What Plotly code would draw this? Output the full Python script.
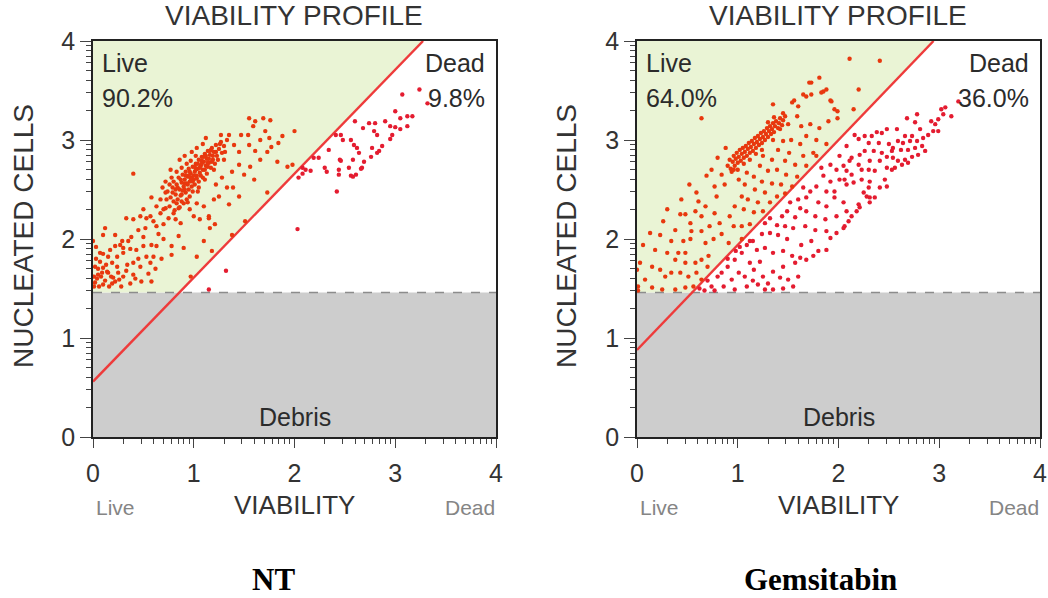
import math
import plotly.graph_objects as go

W, H = 1048, 598

# ---- gate settings (log units) ----
debris_cut = 1.46
nt_gate = (0.56, 1.05)     # intercept, slope of live/dead boundary
gem_gate = (0.88, 1.06)

nt_pct = ("90.2%", "9.8%")
gem_pct = ("64.0%", "36.0%")

# ---- events: (viability, nucleated) ----
nt_live = [
    (0.00,1.98),(0.12,2.11),(0.10,2.04),(0.22,2.04),(0.29,1.98),(0.33,2.21),(0.40,2.20),(0.47,2.23),
    (0.53,2.21),(0.45,2.09),(0.52,2.11),(0.60,2.18),(0.63,2.13),(0.70,2.15),(0.35,1.98),(0.22,1.93),
    (0.27,1.94),(0.30,1.91),(0.17,1.89),(0.15,1.82),(0.24,1.82),(0.30,1.86),(0.37,1.90),(0.43,1.89),
    (0.50,1.93),(0.58,1.94),(0.63,1.93),(0.60,1.82),(0.53,1.82),(0.07,1.77),(0.02,1.72),(0.10,1.71),
    (0.19,1.76),(0.24,1.72),(0.34,1.74),(0.40,1.76),(0.47,1.72),(0.57,1.76),(0.01,1.62),(0.05,1.64),
    (0.15,1.66),(0.20,1.61),(0.30,1.62),(0.37,1.55),(0.40,1.64),(0.48,1.57),(0.58,1.57),(0.01,1.52),
    (0.10,1.54),(0.19,1.55),(0.28,1.52),(0.02,1.56),(0.05,1.70),(0.08,1.62),(0.12,1.58),(0.03,1.80),
    (0.06,1.52),(0.14,1.67),(0.18,1.62),(0.22,1.57),(0.25,1.66),(0.10,1.85),(0.33,1.68),(0.42,1.60),
    (0.45,1.80),(0.55,1.65),(0.62,1.70),(0.68,1.80),(0.70,2.00),(0.65,2.05),(0.38,2.02),(0.50,2.02),
    (0.97,1.62),(0.04,1.60),(0.09,1.66),(0.13,1.74),(0.16,1.52),(0.26,1.59),(0.03,1.92),(0.07,1.86),
    (0.58,2.42),(0.50,2.30),(0.57,2.23),(0.63,2.33),(0.67,2.26),(0.72,2.31),(0.75,2.21),(0.80,2.26),
    (0.85,2.31),(0.82,2.20),(0.87,2.16),(0.67,2.40),(0.72,2.47),(0.77,2.42),(0.82,2.50),(0.83,2.36),
    (0.88,2.45),(0.93,2.40),(0.96,2.30),(1.00,2.23),(1.06,2.20),(1.15,2.23),(1.10,2.33),(1.03,2.36),
    (0.78,1.93),(0.78,1.84),(0.85,2.03),(0.90,1.91),(1.03,1.82),(1.10,1.98),(1.16,2.11),(0.40,2.66),
    (0.74,2.48),(0.76,2.55),(0.79,2.52),(0.80,2.58),(0.82,2.45),(0.83,2.55),(0.85,2.62),(0.86,2.50),
    (0.88,2.57),(0.89,2.65),(0.90,2.53),(0.91,2.60),(0.92,2.68),(0.93,2.56),(0.94,2.63),(0.95,2.71),
    (0.96,2.58),(0.97,2.66),(0.98,2.62),(0.99,2.73),(1.00,2.60),(1.01,2.68),(1.02,2.76),(1.03,2.64),
    (1.04,2.71),(1.05,2.80),(1.06,2.67),(1.07,2.74),(1.08,2.83),(1.09,2.70),(1.10,2.78),(1.11,2.86),
    (1.12,2.74),(1.13,2.81),(1.14,2.89),(1.15,2.77),(1.16,2.85),(1.18,2.92),(1.19,2.80),(1.20,2.88),
    (1.22,2.95),(1.23,2.84),(1.25,2.91),(1.27,2.98),(1.28,2.87),(1.30,2.94),(1.33,3.00),(0.84,2.40),
    (0.87,2.44),(0.92,2.47),(0.95,2.50),(0.98,2.53),(1.01,2.55),(1.05,2.58),(0.78,2.62),(0.83,2.68),
    (0.88,2.72),(0.93,2.76),(0.97,2.79),(1.02,2.84),(0.90,2.36),(0.96,2.43),(1.04,2.48),(1.09,2.62),
    (1.13,2.66),(1.17,2.72),(1.21,2.76),(0.86,2.32),(0.80,2.38),(0.94,2.37),
    (0.70,2.30),(0.73,2.40),(0.76,2.33),(0.79,2.47),(0.81,2.29),(0.84,2.52),(0.88,2.38),(0.91,2.50),
    (0.95,2.64),(0.99,2.48),(1.02,2.70),(1.05,2.52),(1.08,2.76),(1.11,2.60),(1.14,2.73),(1.17,2.90),
    (1.20,2.70),(1.24,2.80),(1.26,2.96),(1.31,2.88),(1.03,2.92),(0.98,2.88),(1.09,2.96),(0.86,2.80),
    (0.91,2.84),(0.77,2.70),(0.72,2.58),(0.69,2.52),(1.12,3.02),(1.27,3.05),
    (0.89,2.49),(0.94,2.55),(0.99,2.58),(1.03,2.61),(1.07,2.64),(1.11,2.70),(1.15,2.81),(1.19,2.84),
    (0.87,2.60),(0.92,2.64),(0.96,2.68),(1.00,2.64),(1.04,2.76),(1.08,2.79),(1.12,2.84),(1.16,2.89),
    (0.91,2.56),(0.97,2.61),(1.01,2.73),(1.06,2.72),(1.10,2.83),(1.14,2.77),(1.18,2.78),(1.22,2.88),
    (1.55,3.22),(1.61,3.19),(1.69,3.22),(1.76,3.20),(2.00,3.09),(1.71,3.09),(1.54,3.05),(1.47,3.05),
    (1.75,3.02),(1.88,3.04),(1.84,2.97),(1.77,2.93),(1.61,2.89),(1.73,2.88),(1.66,2.80),(1.56,2.73),
    (1.83,2.78),(1.93,2.73),(1.98,2.75),(1.45,2.75),(1.45,2.43),(1.73,2.47),(1.33,2.52),(1.39,2.52),
    (1.25,2.43),(1.15,2.21),(1.21,2.15),(1.51,2.18),(1.38,2.04),(1.18,1.88),(1.35,3.05),(1.40,2.95),
    (1.30,2.80),(1.45,2.88),(1.50,2.65),(1.60,2.60),(1.38,2.68),(1.28,2.62),(1.22,2.55),(1.55,2.95),
    (1.66,3.00),(1.20,2.40),(1.35,2.35),(1.59,3.14),
]

nt_dead = [
    (3.07,3.46),(3.24,3.51),(3.32,3.37),(3.00,3.29),(3.12,3.24),(3.17,3.24),(3.05,3.22),(2.90,3.19),
    (2.80,3.17),(2.74,3.17),(2.60,3.19),(2.68,3.12),(2.79,3.09),(2.82,3.05),(2.95,3.14),(3.00,3.13),
    (3.05,3.11),(3.12,3.14),(2.97,3.05),(2.95,3.01),(2.87,2.94),(2.84,2.89),(2.77,2.92),(2.76,2.83),
    (2.82,2.87),(2.62,2.92),(2.64,2.87),(2.56,3.00),(2.46,3.05),(2.48,3.00),(2.41,3.05),(2.34,2.90),
    (2.59,2.95),(2.45,2.80),(2.46,2.79),(2.58,2.80),(2.69,2.78),(2.67,2.72),(2.66,2.71),(2.54,2.72),
    (2.44,2.70),(2.44,2.65),(2.32,2.68),(2.56,2.64),(2.58,2.63),(2.61,2.65),(2.42,2.48),(2.24,2.82),
    (2.19,2.82),(2.16,2.69),(2.04,2.62),(2.08,2.66),(2.11,2.70),(2.30,2.72),(2.03,2.10),(1.32,1.68),
    (1.15,1.49),(2.08,2.72),
]

gem_live = [
    (0.90,2.74),(0.92,2.80),(0.93,2.71),(0.95,2.78),(0.96,2.84),(0.97,2.74),(0.98,2.81),(0.99,2.87),
    (1.00,2.77),(1.01,2.83),(1.02,2.90),(1.03,2.79),(1.04,2.86),(1.05,2.92),(1.06,2.82),(1.07,2.88),
    (1.08,2.94),(1.09,2.84),(1.10,2.91),(1.11,2.97),(1.12,2.87),(1.13,2.93),(1.14,2.99),(1.15,2.89),
    (1.16,2.96),(1.17,3.02),(1.18,2.92),(1.19,2.98),(1.20,3.04),(1.21,2.95),(1.22,3.01),(1.23,3.07),
    (1.24,2.97),(1.25,3.03),(1.26,3.09),(1.27,3.00),(1.28,3.06),(1.29,3.12),(1.30,3.03),(1.31,3.09),
    (1.32,3.14),(1.33,3.06),(1.34,3.11),(1.35,3.17),(1.36,3.08),(1.37,3.14),(1.38,3.19),(1.40,3.12),
    (1.41,3.17),(1.42,3.22),(1.44,3.15),(1.45,3.20),(1.47,3.24),(1.36,3.23),(1.30,3.18),(0.94,2.68),
    (1.00,2.70),(1.06,2.76),(1.12,2.80),(1.18,2.86),(1.24,2.90),
    (2.11,3.82),(2.41,3.80),(1.73,3.58),(1.81,3.63),(1.65,3.46),(1.68,3.44),(2.20,3.51),(1.85,3.49),
    (1.35,3.36),(1.56,3.40),(1.92,3.40),(1.99,3.29),(1.99,3.22),(2.15,3.31),(0.64,3.22),
    (1.54,3.38),(1.73,3.46),(1.71,3.58),(1.83,3.48),(1.88,3.51),(1.93,3.39),(1.96,3.31),(1.90,3.19),
    (1.81,3.12),(1.72,3.16),(1.63,3.14),(1.60,3.34),(1.59,3.24),(1.45,3.27),(1.50,3.16),(1.42,3.11),
    (1.68,3.04),(1.78,3.00),(1.88,2.96),(1.62,2.96),(1.53,3.00),(1.45,2.99),(1.35,3.00),(1.40,2.90),
    (1.51,2.87),(1.65,2.84),(1.75,2.87),(1.78,2.84),(1.68,2.74),(1.57,2.75),(1.47,2.79),(1.34,2.80),
    (1.25,2.84),(1.22,2.74),(1.30,2.69),(1.39,2.70),(1.48,2.65),(1.59,2.63),(1.54,2.53),(1.43,2.55),
    (1.34,2.56),(1.24,2.58),(1.16,2.63),(1.09,2.67),(1.07,2.55),(1.17,2.50),(1.27,2.47),(1.39,2.43),
    (1.47,2.46),(1.32,2.37),(1.20,2.37),(1.10,2.40),(1.06,2.30),(1.16,2.27),(1.25,2.28),(1.12,2.15),
    (1.04,2.13),(1.04,2.00),
    (0.69,2.64),(0.84,2.65),(0.87,2.55),(0.77,2.53),(0.79,2.43),(0.59,2.47),(0.61,2.38),(0.68,2.33),
    (0.58,2.28),(0.43,2.25),(0.48,2.25),(0.53,2.16),(0.64,2.23),(0.77,2.26),(0.82,2.16),(0.72,2.13),
    (0.64,2.08),(0.54,2.08),(0.38,2.09),(0.23,2.04),(0.13,2.06),(0.34,1.98),(0.46,1.98),(0.53,2.00),
    (0.68,1.96),(0.76,2.00),(0.84,2.05),(0.91,1.96),(0.96,2.13),(0.92,2.23),(0.97,2.33),(1.04,2.43),
    (1.01,2.60),(0.96,2.70),(0.06,1.94),(0.18,1.89),(0.30,1.86),(0.41,1.86),(0.48,1.86),(0.38,1.79),
    (0.48,1.76),(0.58,1.76),(0.64,1.79),(0.71,1.83),(0.70,1.72),(0.03,1.76),(0.15,1.72),(0.23,1.69),
    (0.28,1.62),(0.34,1.66),(0.43,1.66),(0.51,1.62),(0.59,1.66),(0.64,1.59),(0.08,1.59),(0.01,1.52),
    (0.15,1.51),(0.25,1.49),(0.38,1.49),(0.48,1.51),(0.56,1.52),(0.01,1.48),(0.00,1.69),(0.44,2.40),
    (0.30,2.30),(0.52,2.55),(0.26,2.18),(0.80,2.82),(0.88,2.92),(0.74,2.70),
]

gem_dead = [
    (3.06,3.33),(3.12,3.24),(3.19,3.39),(3.02,3.31),(3.04,3.26),(2.99,3.21),(2.78,3.26),(2.68,3.22),
    (2.76,3.18),(2.92,3.19),(2.96,3.16),(2.94,3.09),(2.99,3.09),(2.89,3.05),(2.81,3.11),(2.84,3.02),
    (2.78,2.99),(2.73,3.04),(2.71,2.99),(2.66,3.04),(2.64,2.97),(2.59,2.99),(2.58,3.11),(2.48,3.11),
    (2.43,3.07),(2.38,3.08),(2.33,3.04),(2.26,3.04),(2.20,3.01),(2.16,3.05),(2.30,2.97),(2.40,2.97),
    (2.50,2.96),(2.54,2.92),(2.62,2.90),(2.69,2.90),(2.76,2.92),(2.83,2.94),(2.86,2.89),(2.79,2.85),
    (2.73,2.83),(2.66,2.80),(2.59,2.79),(2.53,2.89),(2.54,2.82),(2.48,2.83),(2.43,2.87),(2.35,2.89),
    (2.26,2.89),(2.21,2.85),(2.13,2.82),(2.11,2.79),(2.20,2.75),(2.31,2.79),(2.41,2.79),(2.48,2.72),
    (2.56,2.72),(2.63,2.75),(2.69,2.77),(2.53,2.70),(2.36,2.69),(2.30,2.70),(2.23,2.70),(2.13,2.65),
    (2.08,2.69),(2.06,2.60),(2.15,2.57),(2.23,2.60),(2.31,2.58),(2.46,2.60),(2.41,2.52),(2.48,2.53),
    (2.30,2.52),(2.25,2.47),(2.28,2.43),(2.31,2.42),(2.36,2.42),(2.31,2.37),(2.21,2.32),(2.18,2.28),
    (2.13,2.23),(2.10,2.18),(2.06,2.13),(2.20,2.35),
    (2.08,2.94),(2.01,2.84),(2.05,2.74),(1.98,2.70),(1.92,2.75),(1.83,2.72),(1.85,2.64),(1.92,2.58),
    (2.01,2.60),(2.08,2.55),(1.96,2.48),(1.88,2.48),(1.78,2.53),(1.72,2.48),(1.65,2.52),(1.68,2.42),
    (1.80,2.37),(1.88,2.33),(1.96,2.42),(2.05,2.37),(2.08,2.28),(1.98,2.23),(1.87,2.20),(1.77,2.23),
    (1.68,2.28),(1.62,2.31),(1.60,2.40),(1.52,2.37),(1.49,2.28),(1.57,2.22),(1.44,2.23),(1.39,2.14),
    (1.47,2.13),(1.55,2.11),(1.67,2.13),(1.77,2.09),(1.88,2.08),(1.98,2.06),(2.05,2.11),(1.73,1.98),
    (1.63,1.94),(1.80,1.88),(1.75,1.83),(1.68,1.79),(1.62,1.81),(1.88,1.89),(1.92,2.01),(1.49,2.00),
    (1.40,2.04),(1.32,2.06),(1.27,2.16),(1.32,2.21),(1.24,2.05),(1.15,1.98),(1.09,1.94),(1.19,1.89),
    (1.27,1.91),(1.35,1.86),(1.45,1.88),(1.54,1.83),(1.57,1.76),(1.45,1.72),(1.35,1.67),(1.42,1.61),
    (1.50,1.59),(1.25,1.62),(1.16,1.69),(1.07,1.62),(1.12,1.76),(1.22,1.77),(1.27,1.49),(1.35,1.49),
    (1.09,1.52),(1.20,1.54),
    (0.84,1.66),(0.90,1.72),(0.97,1.79),(1.01,1.66),(0.94,1.59),(0.86,1.52),(0.77,1.48),(0.74,1.52),
    (1.04,1.86),(0.97,1.49),(0.67,1.48),(0.98,1.88),(1.02,1.92),(0.90,1.80),(1.12,1.98),(0.62,1.50),
    (0.70,1.58),(0.80,1.62),(1.15,1.58),(1.30,1.55),(1.45,1.50),(1.60,1.62),(1.55,1.52),
]

LIVE_COLOR = "#e8380e"
DEAD_COLOR = "#e41c30"
GREEN = "#eaf4d5"
GREY = "#cdcdcd"
GATE = "#ee3b3b"
SANS = "Liberation Sans, Arial, sans-serif"
SERIF = "Liberation Serif, Times New Roman, serif"
TXT = "#333333"


def px(x):
    return x / W


def py(y):
    return 1 - y / H


minor_vals = [d + math.log10(k) for d in range(4) for k in range(2, 10)]

panels = [
    dict(live=nt_live, dead=nt_dead, gate=nt_gate, pct=nt_pct, name="NT",
         x0=93, x1=496, name_x=273, yl_x=24),
    dict(live=gem_live, dead=gem_dead, gate=gem_gate, pct=gem_pct, name="Gemsitabin",
         x0=637, x1=1040, name_x=820, yl_x=567),
]
Y0, Y1 = 41, 437  # plot area top / bottom in pixels

fig = go.Figure()
shapes, annotations = [], []
layout_axes = {}

for i, p in enumerate(panels, start=1):
    xa = "x" if i == 1 else f"x{i}"
    ya = "y" if i == 1 else f"y{i}"
    b, m = p["gate"]
    xc = (debris_cut - b) / m
    xt = (4 - b) / m

    for pts, col in ((p["live"], LIVE_COLOR), (p["dead"], DEAD_COLOR)):
        fig.add_trace(go.Scatter(
            x=[q[0] for q in pts], y=[q[1] for q in pts], mode="markers",
            marker=dict(size=4.4, color=col, line=dict(width=0)),
            xaxis=xa, yaxis=ya, showlegend=False, hoverinfo="skip", cliponaxis=True))

    # gated regions
    shapes.append(dict(type="rect", xref=xa, yref=ya, x0=0, x1=4, y0=0, y1=debris_cut,
                       fillcolor=GREY, line=dict(width=0), layer="below"))
    shapes.append(dict(type="path", xref=xa, yref=ya,
                       path=f"M 0,{debris_cut} L {xc},{debris_cut} L {xt},4 L 0,4 Z",
                       fillcolor=GREEN, line=dict(width=0), layer="below"))
    shapes.append(dict(type="line", xref=xa, yref=ya, x0=0, x1=4, y0=debris_cut, y1=debris_cut,
                       line=dict(color="#8c8c8c", width=1.5, dash="dash"), layer="below"))
    shapes.append(dict(type="line", xref=xa, yref=ya, x0=0, y0=b, x1=xt, y1=4,
                       line=dict(color=GATE, width=2.4), layer="below"))

    dom_x = [px(p["x0"]), px(p["x1"])]
    dom_y = [py(Y1), py(Y0)]
    common = dict(range=[0, 4], showgrid=False, zeroline=False, showline=True, mirror=True,
                  linecolor="#222222", linewidth=1.5, ticks="outside", tickcolor="#444444",
                  tickwidth=1.2, tickmode="array", tickvals=[0, 1, 2, 3, 4],
                  ticktext=["0", "1", "2", "3", "4"], automargin=False,
                  tickfont=dict(family=SANS, size=25, color=TXT),
                  minor=dict(tickmode="array", tickvals=minor_vals, ticklen=5,
                             tickcolor="#444444", tickwidth=1.2, showgrid=False),
                  fixedrange=True)
    layout_axes["xaxis" if i == 1 else f"xaxis{i}"] = dict(
        common, domain=dom_x, anchor=ya, ticklen=9, ticklabelstandoff=4)
    layout_axes["yaxis" if i == 1 else f"yaxis{i}"] = dict(
        common, domain=dom_y, anchor=xa, ticklen=11, ticklabelstandoff=0)

    cx = (p["x0"] + p["x1"]) / 2

    def ann(text, x, y, size, xanchor="center", color=TXT, family=SANS, angle=0):
        annotations.append(dict(text=text, x=px(x), y=py(y), xref="paper", yref="paper",
                                xanchor=xanchor, yanchor="middle", showarrow=False,
                                textangle=angle, font=dict(family=family, size=size, color=color)))

    ann("VIABILITY PROFILE", cx - 1, 16, 28)
    ann("NUCLEATED CELLS", p["yl_x"], 236, 28, angle=-90)
    ann("VIABILITY", cx, 505, 26)
    ann("Live", p["x0"] + 22, 507, 21, color="#858585")
    ann("Dead", p["x1"] - 26, 507, 21, color="#858585")
    ann("Live", p["x0"] + 7, 63, 25, xanchor="left", color="#2b2b2b")
    ann(p["pct"][0], p["x0"] + 7, 98, 25, xanchor="left", color="#2b2b2b")
    ann("Dead", p["x1"] - 9, 63, 25, xanchor="right", color="#2b2b2b")
    ann(p["pct"][1], p["x1"] - 9, 98, 25, xanchor="right", color="#2b2b2b")
    ann("Debris", cx, 417, 25, color="#2b2b2b")
    ann(f"<b>{p['name']}</b>", p["name_x"], 579, 31, color="#000000", family=SERIF)

fig.update_layout(
    width=W, height=H, margin=dict(l=0, r=0, t=0, b=0, pad=0, autoexpand=False),
    paper_bgcolor="white", plot_bgcolor="white",
    shapes=shapes, annotations=annotations, **layout_axes)

fig.write_html("out.html", config={"displayModeBar": False})
